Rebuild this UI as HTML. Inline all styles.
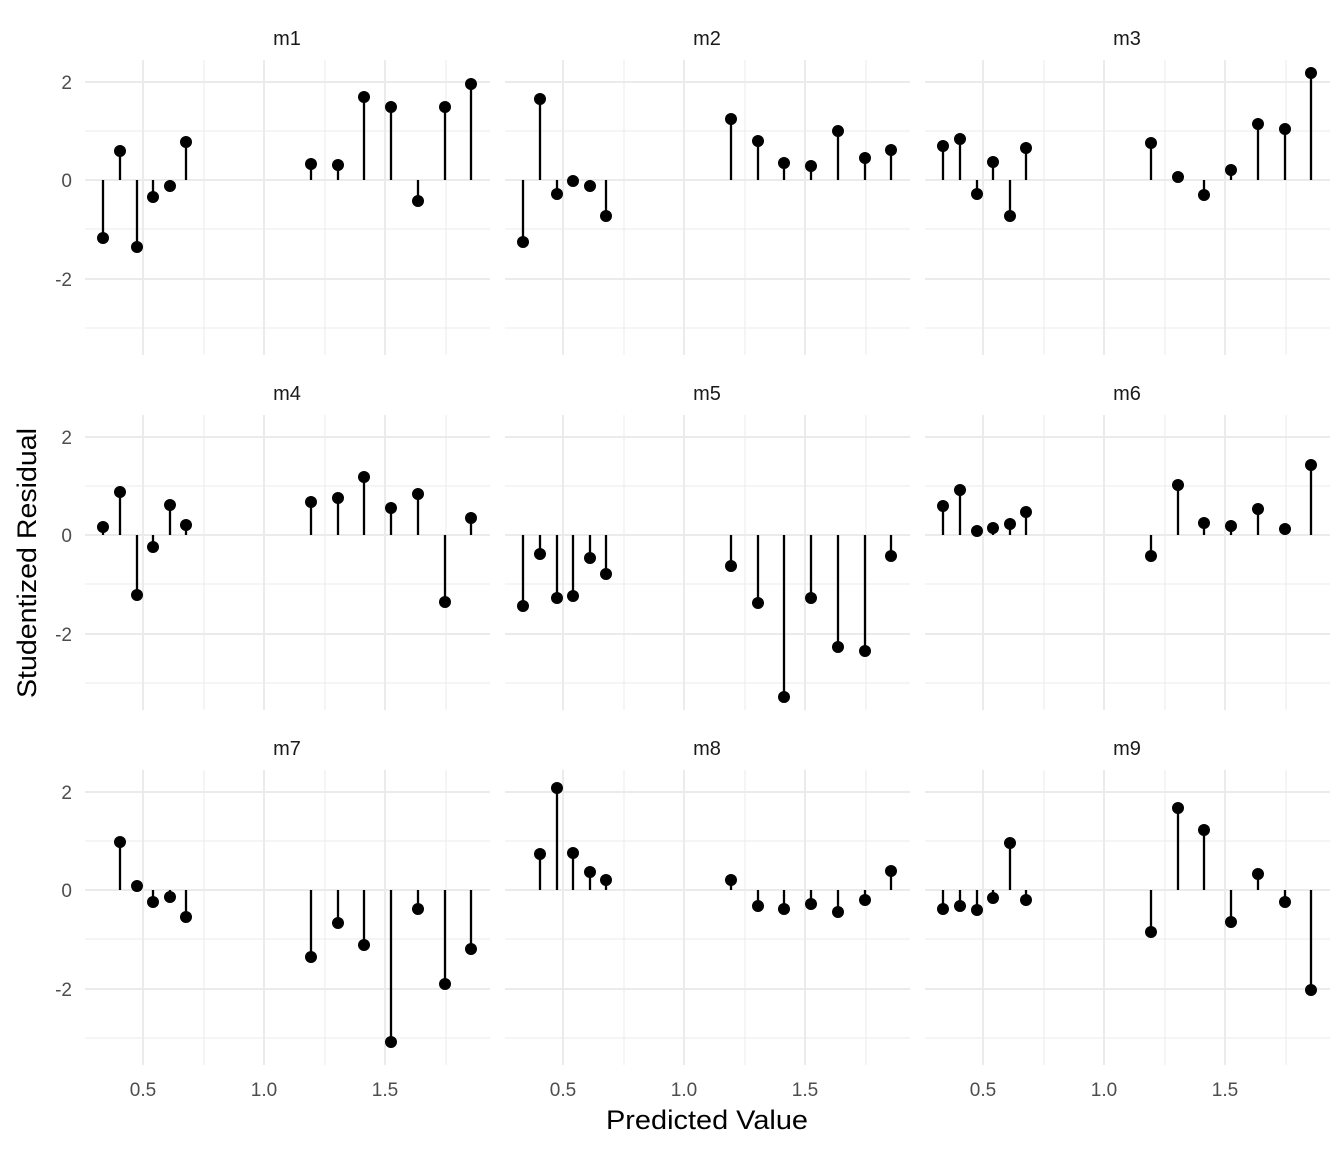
<!DOCTYPE html>
<html><head><meta charset="utf-8"><style>
html,body{margin:0;padding:0;background:#fff;}
svg{display:block;font-family:"Liberation Sans",Arial,sans-serif;}
</style></head><body>
<svg id="s" width="1344" height="1152" xmlns="http://www.w3.org/2000/svg">
<rect width="1344" height="1152" fill="#fff"/>
</svg>
<script>
const s=document.getElementById('s');
let h='';
const colX=[0,420,840], rowY=[0,355,710];
const names=['m1','m2','m3','m4','m5','m6','m7','m8','m9'];
const L=[103,120,137,153,170,186], R=[311,338,364,391,418,445,471];
const data=[
 [[238,151,247,197,186,142],[164,165,97,107,201,107,84]],
 [[242,99,194,181,186,216],[119,141,163,166,131,158,150]],
 [[146,139,194,162,216,148],[143,177,195,170,124,129,73]],
 [[172,137,240,192,150,170],[147,143,122,153,139,247,163]],
 [[251,199,243,241,203,219],[211,248,342,243,292,296,201]],
 [[151,135,176,173,169,157],[201,130,168,171,154,174,110]],
 [[null,132,176,192,187,207],[247,213,235,332,199,274,239]],
 [[null,144,78,143,162,170],[170,196,199,194,202,190,161]],
 [[199,196,200,188,133,190],[222,98,120,212,164,192,280]]
];
for(let i=0;i<9;i++){
 const cx=colX[i%3], ry=rowY[Math.floor(i/3)];
 const x0=85+cx,x1=490+cx,y0=60+ry,y1=355+ry;
 for(const v of [204,325,446]) h+=`<line x1="${v+cx}" x2="${v+cx}" y1="${y0}" y2="${y1}" stroke="#ebebeb" stroke-width="1"/>`;
 for(const v of [131,229,328]) h+=`<line x1="${x0}" x2="${x1}" y1="${v+ry}" y2="${v+ry}" stroke="#ebebeb" stroke-width="1"/>`;
 for(const v of [143,264,385]) h+=`<line x1="${v+cx}" x2="${v+cx}" y1="${y0}" y2="${y1}" stroke="#ebebeb" stroke-width="2"/>`;
 for(const v of [82,180,279]) h+=`<line x1="${x0}" x2="${x1}" y1="${v+ry}" y2="${v+ry}" stroke="#ebebeb" stroke-width="2"/>`;
 h+=`<text x="${287+cx}" y="${45+ry}" font-size="20" fill="#1a1a1a" text-anchor="middle">${names[i]}</text>`;
 const d=data[i];
 const pts=[];
 L.forEach((x,j)=>{if(d[0][j]!=null)pts.push([x,d[0][j]]);});
 R.forEach((x,j)=>pts.push([x,d[1][j]]));
 for(const [x,y] of pts){
  h+=`<line x1="${x+cx}" x2="${x+cx}" y1="${180+ry}" y2="${y+ry}" stroke="#000" stroke-width="2.3"/>`;
  h+=`<circle cx="${x+cx}" cy="${y+ry}" r="6" fill="#000"/>`;
 }
}
for(let r=0;r<3;r++){
 const ry=rowY[r];
 [['2',82],['0',180],['-2',279]].forEach(([t,y])=>{
  h+=`<text x="72" y="${y+ry+7}" font-size="19" fill="#4d4d4d" text-anchor="end">${t}</text>`;
 });
}
for(let c=0;c<3;c++){
 const cx=colX[c];
 [['0.5',143],['1.0',264],['1.5',385]].forEach(([t,x])=>{
  h+=`<text x="${x+cx}" y="${1096}" font-size="19" fill="#4d4d4d" text-anchor="middle">${t}</text>`;
 });
}
h+=`<text x="707" y="1129" font-size="27" fill="#000" text-anchor="middle" textLength="202" lengthAdjust="spacingAndGlyphs">Predicted Value</text>`;
h+=`<text transform="translate(36,563) rotate(-90)" font-size="27" fill="#000" text-anchor="middle" textLength="270" lengthAdjust="spacingAndGlyphs">Studentized Residual</text>`;
s.insertAdjacentHTML('beforeend',h);
</script>
</body></html>
